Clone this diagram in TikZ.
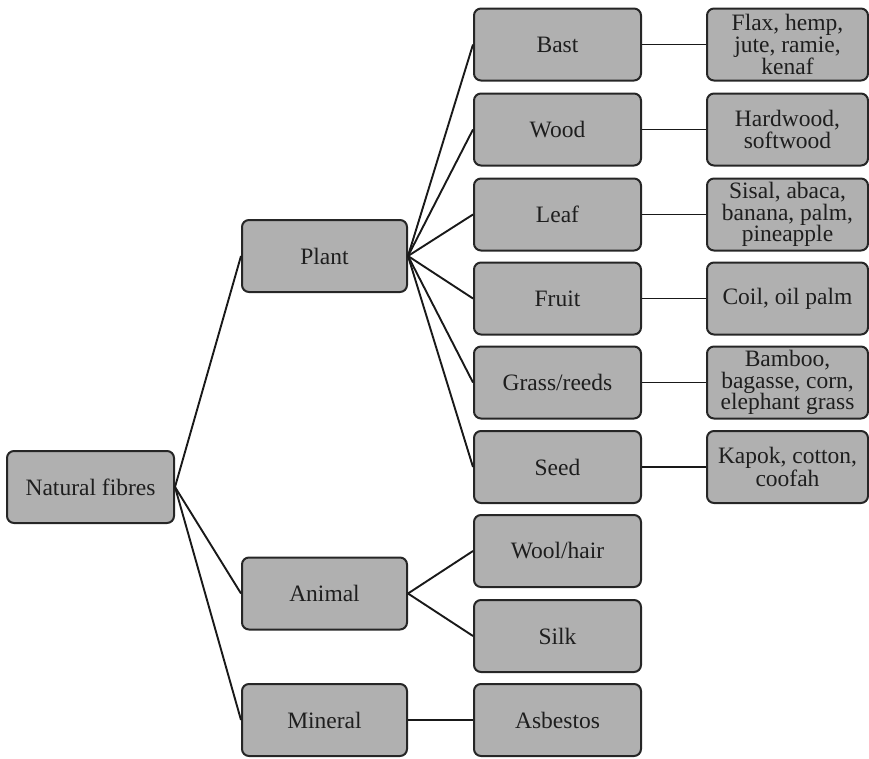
\documentclass[tikz,border=0pt]{standalone}
\usepackage{fontspec}
\setmainfont{Liberation Serif}
\definecolor{boxgray}{HTML}{B0B0B0}
\definecolor{txt}{HTML}{1E1E1E}
\begin{document}
\begin{tikzpicture}[x=1pt,y=-1pt,
  box/.style={draw=black!85, fill=boxgray, rounded corners=7pt, line width=2pt,
    minimum width=167pt, minimum height=72pt, inner sep=0pt, align=center,
    text=txt, font=\fontsize{23.5}{21.5}\selectfont},
  leafbox/.style={box, minimum width=161pt},
  conn/.style={draw=black!90, line width=1.9pt}]
\useasboundingbox (0,0) rectangle (869,758);
\node[box] (nf) at (90.5,487) {Natural fibres};
\node[box, minimum width=165pt] (plant) at (324.5,256) {Plant};
\node[box, minimum width=165pt] (animal) at (324.5,593.5) {Animal};
\node[box, minimum width=165pt] (mineral) at (324.5,720) {Mineral};
\node[box] (bast) at (557.5,44.5) {Bast};
\node[box] (wood) at (557.5,129.5) {Wood};
\node[box] (leaf) at (557.5,214.5) {Leaf};
\node[box] (fruit) at (557.5,298.5) {Fruit};
\node[box] (grass) at (557.5,382.5) {Grass/reeds};
\node[box] (seed) at (557.5,467) {Seed};
\node[box] (wool) at (557.5,551) {Wool/hair};
\node[box] (silk) at (557.5,636) {Silk};
\node[box] (asb) at (557.5,720) {Asbestos};
\node[leafbox] (bastx) at (787.5,44.5) {Flax, hemp,\\jute, ramie,\\kenaf};
\node[leafbox] (woodx) at (787.5,129.5) {Hardwood,\\softwood};
\node[leafbox] (leafx) at (787.5,214.5) {Sisal, abaca,\\banana, palm,\\pineapple};
\node[leafbox] (fruitx) at (787.5,298.5) {Coil, oil palm};
\node[leafbox] (grassx) at (787.5,382.5) {Bamboo,\\bagasse, corn,\\elephant grass};
\node[leafbox] (seedx) at (787.5,467) {Kapok, cotton,\\coofah};
\foreach \c in {plant,animal,mineral} \draw[conn] (nf.east) -- (\c.west);
\foreach \c in {bast,wood,leaf,fruit,grass,seed} \draw[conn] (plant.east) -- (\c.west);
\foreach \c in {wool,silk} \draw[conn] (animal.east) -- (\c.west);
\draw[conn] (mineral.east) -- (asb.west);
\foreach \c in {bast,wood,leaf,fruit,grass,seed} \draw[conn] (\c.east) -- (\c x.west);
\end{tikzpicture}
\end{document}
